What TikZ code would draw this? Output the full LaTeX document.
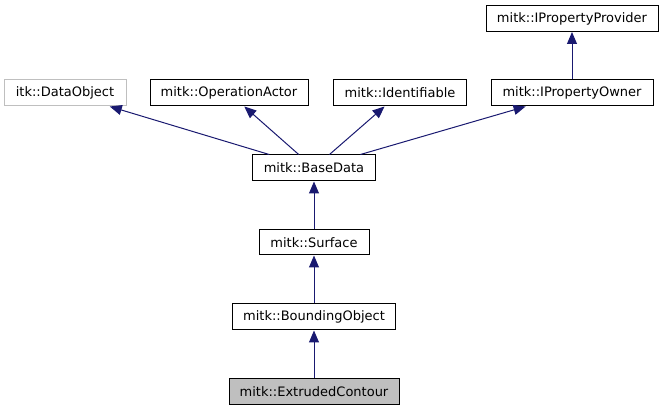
\documentclass[tikz,border=0pt]{standalone}
\usepackage{fontspec}
\setmainfont{DejaVu Sans}
\usetikzlibrary{arrows.meta}
\definecolor{edgeblue}{HTML}{191970}
\definecolor{shadegray}{HTML}{BFBFBF}

\begin{document}
\begin{tikzpicture}[x=1pt,y=-1pt,
  cls/.style={draw=black,line width=1pt,minimum height=26pt,inner sep=0pt,
    font=\fontsize{13}{15}\selectfont},
  edge/.style={draw=edgeblue,line width=1pt,-{Triangle[length=12pt,width=10pt]}}]
\useasboundingbox (0,0) rectangle (664,411);

% classes, top row first
\node[cls,minimum width=172pt] (prov) at (572,18.5) {mitk::IPropertyProvider};
\node[cls,draw=shadegray,minimum width=122pt] (dobj) at (65,93) {itk::DataObject};
\node[cls,minimum width=158pt] (opact) at (229,93) {mitk::OperationActor};
\node[cls,minimum width=133pt] (ident) at (400,93) {mitk::Identifiable};
\node[cls,minimum width=162pt] (owner) at (572,93) {mitk::IPropertyOwner};
\node[cls,minimum width=123pt] (base) at (314,168) {mitk::BaseData};
\node[cls,minimum width=110pt,minimum height=25pt] (surf) at (314,242.5) {mitk::Surface};
\node[cls,minimum width=163pt] (bound) at (314,317) {mitk::BoundingObject};
\node[cls,fill=shadegray,minimum width=170pt] (extr) at (314,391.5) {mitk::ExtrudedContour};

% inheritance
\draw[edge] (owner) -- (prov);
\draw[edge] (base) -- (dobj);
\draw[edge] (base) -- (opact);
\draw[edge] (base) -- (ident);
\draw[edge] (base) -- (owner);
\draw[edge] (surf) -- (base);
\draw[edge] (bound) -- (surf);
\draw[edge] (extr) -- (bound);
\end{tikzpicture}
\end{document}
